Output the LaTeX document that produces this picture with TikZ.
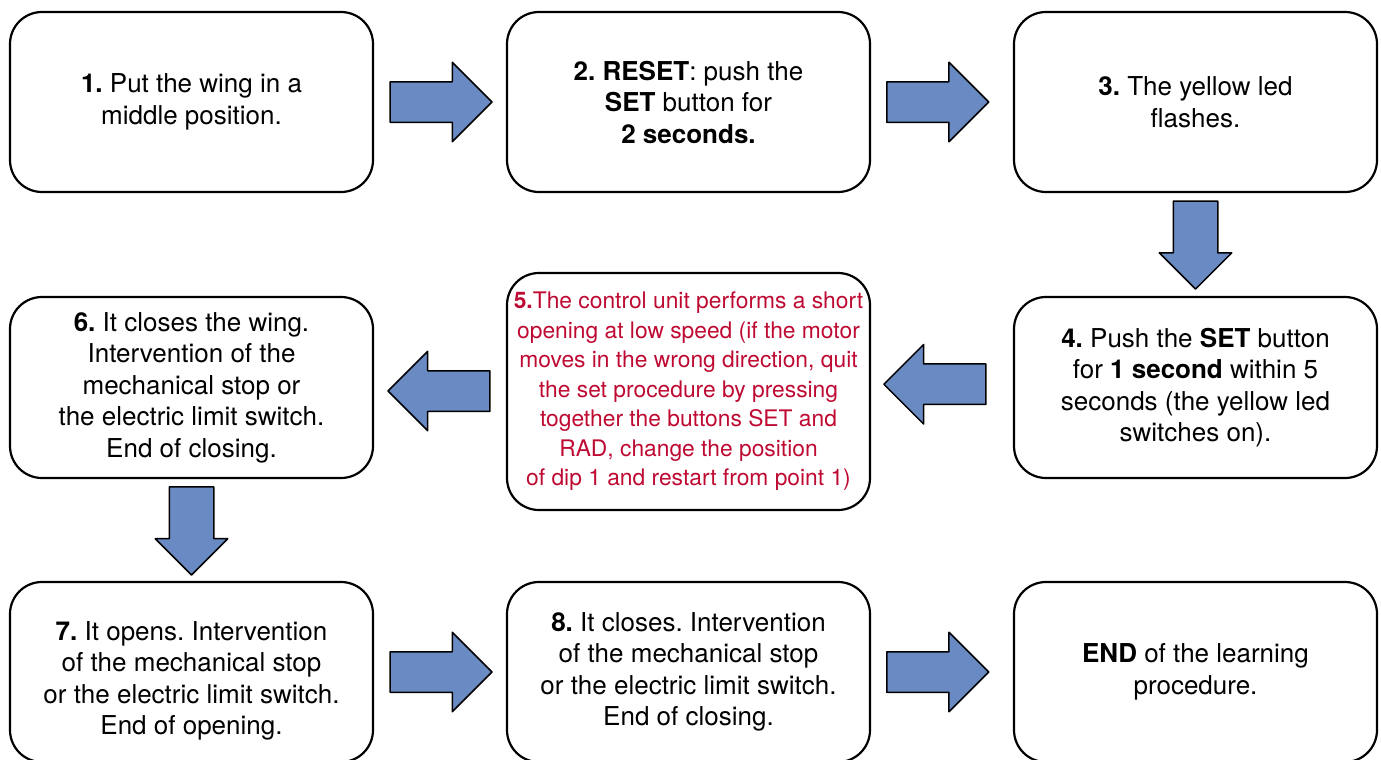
\documentclass[tikz,border=0pt]{standalone}
\usepackage{fontspec}
\setmainfont{TeX Gyre Heros}
\usetikzlibrary{shapes.arrows,calc}
\definecolor{arrowblue}{RGB}{106,138,196}
\definecolor{notered}{RGB}{190,10,50}
\frenchspacing
\begin{document}
\begin{tikzpicture}[x=1pt,y=-1pt, line join=round,
		box/.style={draw, line width=2.2pt, rounded corners=32pt, minimum width=363pt, minimum height=180pt, align=center, inner sep=0pt, font=\fontsize{26}{31.5}\selectfont},
		plain/.style={align=center, inner sep=0pt, font=\fontsize{26}{31.5}\selectfont},
		blockarrow/.style={single arrow, draw, fill=arrowblue, line width=1.5pt, inner sep=0pt, text height=19.5pt, text depth=19.5pt, minimum height=102pt, single arrow head extend=19.5pt, anchor=tail},
		downarrow/.style={blockarrow, rotate=-90, text height=21.5pt, text depth=21.5pt, minimum height=88pt, single arrow head extend=14pt}]
	\useasboundingbox (0,0) rectangle (1381,760);
	% first row
	\node[box] (b1) at (191.5,102) {\textbf{1.} Put the wing in a\\middle position.};
	\node[box] (b2) at (688.5,102) {\textbf{2. RESET}: push the\\\textbf{SET} button for\\\textbf{2 seconds.}};
	\node[box] (b3) at (1195.5,102) {\textbf{3.} The yellow led\\flashes.};
	% second row
	\node[box, minimum height=181pt] (b4) at (1195.5,387.5) {\textbf{4.} Push the \textbf{SET} button\\for \textbf{1 second} within 5\\seconds (the yellow led\\switches on).};
	\node[box, minimum height=237pt, text=notered, font=\fontsize{22.8}{29.5}\selectfont] (b5) at (688.5,391.5) {\textbf{5.}The control unit performs a short\\opening at low speed (if the motor\\moves in the wrong direction, quit\\the set procedure by pressing\\together the buttons SET and\\RAD, change the position\\of dip 1 and restart from point 1)};
	\node[box, minimum height=181pt] (b6) at (191.5,387.5) {\textbf{6.} It closes the wing.\\Intervention of the\\mechanical stop or\\the electric limit switch.\\End of closing.};
	% third row
	\node[box] (b7) at (191.5,672) {};
	\node[plain] (t7) at ([yshift=-9pt]b7.center) {\textbf{7.} It opens. Intervention\\of the mechanical stop\\or the electric limit switch.\\End of opening.};
	\node[box] (b8) at (688.5,672) {\textbf{8.} It closes. Intervention\\of the mechanical stop\\or the electric limit switch.\\End of closing.};
	\node[box] (b9) at (1195.5,672) {\textbf{END} of the learning\\procedure.};
	% arrows (placed by their tail)
	\node[blockarrow] (a12) at ($(b1.east)!0.115!(b2.west)$) {};
	\node[blockarrow] (a23) at ($(b2.east)!0.105!(b3.west)$) {};
	\node[downarrow] (a34) at ($(b3.south)!0.07!(b4.north)$) {};
	\node[blockarrow, rotate=180] (a45) at ([yshift=4pt]$(b4.west)!0.185!(b5.east)$) {};
	\node[blockarrow, rotate=180] (a56) at ($(b5.west)!0.115!(b6.east)$) {};
	\node[downarrow] (a67) at ($(b6.south)!0.07!(b7.north)$) {};
	\node[blockarrow] (a78) at ($(b7.east)!0.115!(b8.west)$) {};
	\node[blockarrow] (a89) at ($(b8.east)!0.105!(b9.west)$) {};
\end{tikzpicture}
\end{document}
